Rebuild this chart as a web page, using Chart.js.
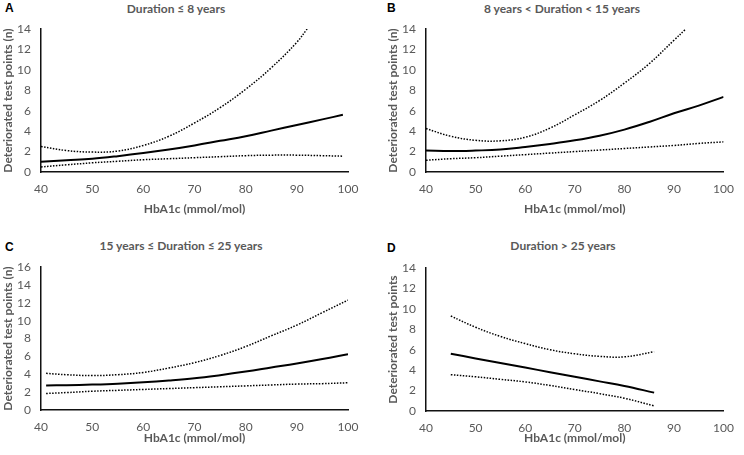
<!DOCTYPE html>
<html>
<head>
<meta charset="utf-8">
<script src="https://cdn.jsdelivr.net/npm/chart.js@4.4.1/dist/chart.umd.min.js"></script>
<style>
  body { margin: 0; background: #fff; width: 744px; height: 455px; position: relative; overflow: hidden; }
  .panel { position: absolute; }
  .letter { position: absolute; font: bold 12px Arial, sans-serif; color: #000; }
  .ttl { position: absolute; font: bold 12px Lato, sans-serif; color: #595959; white-space: nowrap; transform: translate(-50%, -50%); }
</style>
</head>
<body>
<div class="letter" style="left:5px;top:1px">A</div>
<div class="letter" style="left:387px;top:1px">B</div>
<div class="letter" style="left:5px;top:240px">C</div>
<div class="letter" style="left:387px;top:241px">D</div>
<div class="ttl" style="left:176px;top:8px">Duration ≤ 8 years</div>
<div class="ttl" style="left:562px;top:8px">8 years &lt; Duration &lt; 15 years</div>
<div class="ttl" style="left:181px;top:245px">15 years ≤ Duration ≤ 25 years</div>
<div class="ttl" style="left:563px;top:245px">Duration &gt; 25 years</div>

<div class="panel" style="left:0;top:0;width:372px;height:220px"><canvas id="chartA"></canvas></div>
<div class="panel" style="left:372px;top:0;width:372px;height:220px"><canvas id="chartB"></canvas></div>
<div class="panel" style="left:0;top:220px;width:372px;height:235px"><canvas id="chartC"></canvas></div>
<div class="panel" style="left:372px;top:220px;width:372px;height:235px"><canvas id="chartD"></canvas></div>

<script>
// A: duration <= 8 years
var aHbA1c    = [40, 45, 50, 55, 60, 65, 70, 75, 80, 85, 90, 95, 99];
var aEstimate = [1.0, 1.15, 1.3, 1.55, 1.85, 2.2, 2.6, 3.05, 3.5, 4.05, 4.6, 5.15, 5.6];
var aLower    = [0.5, 0.7, 0.9, 1.05, 1.2, 1.3, 1.4, 1.5, 1.6, 1.65, 1.65, 1.6, 1.55];
var aUpperX   = [40, 45, 50, 55, 60, 65, 70, 75, 80, 85, 90, 92];
var aUpper    = [2.5, 2.1, 1.95, 2.05, 2.6, 3.5, 4.8, 6.3, 8.1, 10.2, 12.7, 14];

// B: 8 < duration < 15 years
var bHbA1c    = [40, 45, 50, 55, 60, 65, 70, 75, 80, 85, 90, 95, 100];
var bEstimate = [2.1, 2.05, 2.1, 2.2, 2.45, 2.75, 3.1, 3.55, 4.15, 4.9, 5.75, 6.5, 7.35];
var bLower    = [1.15, 1.3, 1.4, 1.55, 1.7, 1.85, 2.0, 2.15, 2.3, 2.45, 2.6, 2.8, 2.95];
var bUpperX   = [40, 45, 50, 55, 60, 65, 70, 75, 80, 85, 90, 92.4];
var bUpper    = [4.25, 3.5, 3.1, 3.05, 3.4, 4.3, 5.6, 7.0, 8.7, 10.6, 12.9, 14];

// C: 15 <= duration <= 25 years
var cHbA1c    = [41, 45, 50, 55, 60, 65, 70, 75, 80, 85, 90, 95, 100];
var cEstimate = [2.75, 2.78, 2.85, 2.95, 3.1, 3.3, 3.55, 3.9, 4.3, 4.75, 5.2, 5.7, 6.25];
var cLower    = [1.85, 1.95, 2.1, 2.2, 2.3, 2.4, 2.5, 2.6, 2.7, 2.8, 2.9, 2.95, 3.05];
var cUpper    = [4.1, 3.95, 3.85, 3.95, 4.2, 4.7, 5.3, 6.1, 7.1, 8.3, 9.5, 10.9, 12.3];

// D: duration > 25 years
var dHbA1c    = [45, 50, 55, 60, 65, 70, 75, 80, 86];
var dEstimate = [5.6, 5.15, 4.7, 4.25, 3.8, 3.35, 2.9, 2.45, 1.8];
var dLower    = [3.55, 3.35, 3.1, 2.85, 2.5, 2.1, 1.7, 1.25, 0.5];
var dUpper    = [9.3, 8.2, 7.3, 6.6, 6.0, 5.6, 5.35, 5.3, 5.8];

var xMin = 40, xMax = 100, xStep = 10;
var yStep = 2;
var grey = '#595959';

function pts(xs, ys) {
  return xs.map(function(x, i) { return {x: x, y: ys[i]}; });
}

function line(data, dotted) {
  return {
    data: data,
    borderColor: '#000',
    borderWidth: dotted ? 1.5 : 2,
    borderDash: dotted ? [1.5, 1.5] : [],
    pointRadius: 0,
    fill: false,
    tension: 0.4
  };
}

// box: left, top, right, bottom of the plot area inside the canvas
function panel(id, box, yMax, yTitle, yTitlePad, xTitlePad, datasets) {
  var w = 372, h = box.h;
  new Chart(document.getElementById(id), {
    type: 'line',
    data: { datasets: datasets },
    options: {
      responsive: false,
      animation: false,
      maintainAspectRatio: false,
      layout: { padding: { left: 0, top: box.top, right: w - box.right, bottom: 0 } },
      plugins: { legend: { display: false }, tooltip: { enabled: false } },
      scales: {
        x: {
          type: 'linear', min: xMin, max: xMax,
          grid: { display: false, drawTicks: false },
          border: { display: true, color: '#111', width: 1.5 },
          ticks: { stepSize: xStep, padding: 10, color: grey, font: { family: 'Lato', size: 12 } },
          title: { display: true, text: 'HbA1c (mmol/mol)', color: grey,
                   font: { family: 'Lato', size: 12, weight: 'bold' }, padding: { top: 0, bottom: xTitlePad } },
          afterFit: function(s) { s.height = h - box.bottom; }
        },
        y: {
          min: 0, max: yMax,
          grid: { display: false, drawTicks: false },
          border: { display: true, color: '#111', width: 1.5 },
          ticks: { stepSize: yStep, padding: 10, color: grey, font: { family: 'Lato', size: 12 } },
          title: { display: true, text: yTitle, color: grey,
                   font: { family: 'Lato', size: 12, weight: 'bold' }, padding: { top: yTitlePad, bottom: 0 } },
          afterFit: function(s) { s.width = box.left; }
        }
      }
    }
  });
}

function sizeCanvas(id, h) {
  var c = document.getElementById(id);
  c.width = 372; c.height = h;
  c.style.width = '372px'; c.style.height = h + 'px';
}
sizeCanvas('chartA', 220); sizeCanvas('chartB', 220);
sizeCanvas('chartC', 235); sizeCanvas('chartD', 235);

panel('chartA', {left: 41, top: 29, right: 348, bottom: 172, h: 220}, 14,
  'Deteriorated test points (n)', 1, 4,
  [line(pts(aHbA1c, aEstimate), false), line(pts(aUpperX, aUpper), true), line(pts(aHbA1c, aLower), true)]);

panel('chartB', {left: 54, top: 29, right: 361, bottom: 172, h: 220}, 14,
  'Deteriorated test points (n)', 14, 4,
  [line(pts(bHbA1c, bEstimate), false), line(pts(bUpperX, bUpper), true), line(pts(bHbA1c, bLower), true)]);

panel('chartC', {left: 41, top: 47, right: 348, bottom: 190, h: 235}, 16,
  'Deteriorated test points (n)', 1, 10,
  [line(pts(cHbA1c, cEstimate), false), line(pts(cHbA1c, cUpper), true), line(pts(cHbA1c, cLower), true)]);

panel('chartD', {left: 54, top: 48, right: 361, bottom: 191, h: 235}, 14,
  'Deteriorated test points', 14, 10,
  [line(pts(dHbA1c, dEstimate), false), line(pts(dHbA1c, dUpper), true), line(pts(dHbA1c, dLower), true)]);
</script>
</body>
</html>
